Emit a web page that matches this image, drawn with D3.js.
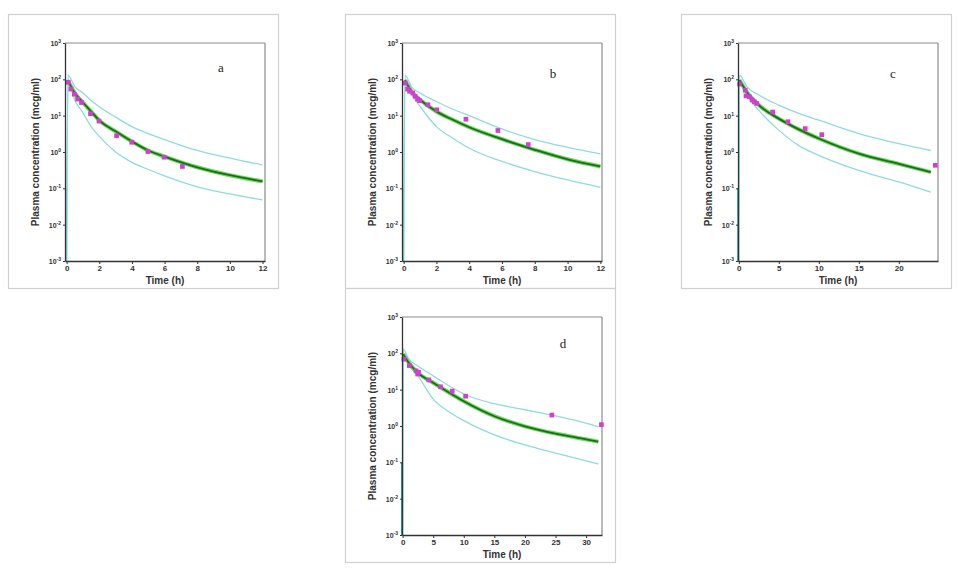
<!DOCTYPE html>
<html lang="en">
<head>
<meta charset="utf-8">
<title>Plasma concentration panels</title>
<script src="https://d3js.org/d3.v7.min.js"></script>
<style>
  body { margin: 0; background: #fff; }
  .axis text { font-family: "Liberation Sans", Arial, sans-serif; font-weight: bold; fill: #333; }
  .axis path, .axis line { stroke: #333; }
  .title { font-family: "Liberation Sans", Arial, sans-serif; font-weight: bold; fill: #333; font-size: 10px; }
</style>
</head>
<body>
<script>
// ---- data ----
// panel a (first value of each simulated curve is the start at time zero)
var timeA   = [0, 0.08, 0.5, 1, 1.5, 2, 3, 4, 5, 6, 8, 10, 12];
var medianA = [null, 92, 42, 23, 13, 7.4, 3.7, 1.95, 1.1, 0.75, 0.38, 0.23, 0.155];
var upperA  = [0.001, 130, 63, 42, 26, 17.5, 9.1, 5, 3.2, 2.2, 1.1, 0.68, 0.44];
var lowerA  = [0.001, 100, 27, 12, 5, 2.7, 1.0, 0.52, 0.33, 0.22, 0.11, 0.07, 0.048];
var obsTimeA = [0.1, 0.26, 0.47, 0.67, 0.91, 1.46, 1.98, 3.06, 3.99, 4.98, 5.97, 7.09];
var obsConcA = [83, 54, 39, 28.6, 23, 11.3, 7.1, 2.8, 1.86, 1.03, 0.72, 0.4];

// panel b
var timeB   = [0, 0.08, 0.5, 1, 2, 3, 4, 6, 8, 10, 12];
var medianB = [null, 95, 45, 27.5, 13, 7.7, 4.8, 2.25, 1.15, 0.63, 0.40];
var upperB  = [0.001, 130, 60, 42, 24.5, 15, 10, 4.3, 2.2, 1.35, 0.89];
var lowerB  = [0.001, 100, 37.6, 18, 5, 2.4, 1.27, 0.55, 0.29, 0.17, 0.107];
var obsTimeB = [0.1, 0.24, 0.36, 0.56, 0.7, 0.85, 0.97, 1.48, 2.02, 3.8, 5.75, 7.6];
var obsConcB = [79, 54, 47, 42, 34, 28.6, 26, 20, 14.5, 8.0, 3.9, 1.6];

// panel c
var timeC   = [0, 0.1, 1, 2.5, 5, 7.5, 10, 15, 20, 24];
var medianC = [null, 95, 45, 19.6, 8.3, 4.2, 2.35, 0.9, 0.47, 0.28];
var upperC  = [0.001, 130, 63, 37, 19.6, 11.5, 7.5, 3.2, 1.7, 1.1];
var lowerC  = [0.001, 100, 37, 14, 4.0, 1.5, 0.81, 0.31, 0.15, 0.078];
var obsTimeC = [0.1, 0.8, 0.9, 1.33, 1.66, 1.95, 2.24, 4.23, 6.14, 8.3, 10.37, 24.56];
var obsConcC = [74, 50, 35, 33, 27, 24, 21.7, 12.6, 6.8, 4.4, 3.0, 0.43];

// panel d
var timeD   = [0, 0.1, 1, 2.5, 5, 7.5, 10, 15, 20, 25, 30, 32];
var medianD = [null, 95, 55, 29, 15.5, 8.5, 4.8, 1.86, 0.98, 0.62, 0.43, 0.37];
var upperD  = [0.001, 130, 70, 45, 24, 13, 7.6, 4.1, 2.8, 1.9, 1.2, 0.95];
var lowerD  = [0.001, 100, 48, 24, 5.5, 2.5, 1.4, 0.57, 0.30, 0.18, 0.11, 0.09];
var obsTimeD = [0.2, 1.1, 2.2, 2.46, 2.6, 4.27, 6.19, 8.1, 10.3, 24.4, 32.5];
var obsConcD = [69, 46, 33, 27, 30, 18.6, 12, 9.1, 6.6, 2.0, 1.09];

// tick values
var yTickExp = [-3, -2, -1, 0, 1, 2, 3];
var xTicksA = [0, 2, 4, 6, 8, 10, 12];
var xTicksC = [0, 5, 10, 15, 20];
var xTicksD = [0, 5, 10, 15, 20, 25, 30];

var panelLabels = ["a", "b", "c", "d"];

// layout of the four cards
var panels = [
  {x: 8,   y: 14,  xmax: 12.15, ticks: xTicksA, time: timeA, med: medianA, up: upperA, lo: lowerA, ot: obsTimeA, oc: obsConcA, lx: 213, ly: 53},
  {x: 345, y: 14,  xmax: 12.1,  ticks: xTicksA, time: timeB, med: medianB, up: upperB, lo: lowerB, ot: obsTimeB, oc: obsConcB, lx: 208, ly: 59},
  {x: 681, y: 14,  xmax: 24.9,  ticks: xTicksC, time: timeC, med: medianC, up: upperC, lo: lowerC, ot: obsTimeC, oc: obsConcC, lx: 212, ly: 59},
  {x: 345, y: 288, xmax: 32.6,  ticks: xTicksD, time: timeD, med: medianD, up: upperD, lo: lowerD, ot: obsTimeD, oc: obsConcD, lx: 218, ly: 55}
];

var cardW = 270, cardH = 274;
var margin = {top: 29, right: 13, bottom: 27, left: 57};
var w = cardW - margin.left - margin.right;
var h = cardH - margin.top - margin.bottom;

var svg = d3.select("body").append("svg")
  .attr("width", 960)
  .attr("height", 576);

panels.forEach(function(p, i) {
  var card = svg.append("g").attr("transform", "translate(" + p.x + "," + p.y + ")");

  card.append("rect")
    .attr("x", 0.5).attr("y", 0.5)
    .attr("width", cardW).attr("height", cardH)
    .attr("fill", "#fff")
    .attr("stroke", "#cfcfcf")
    .attr("stroke-width", 1.2);

  var g = card.append("g").attr("transform", "translate(" + margin.left + "," + margin.top + ")");

  var x = d3.scaleLinear().domain([-0.1, p.xmax]).range([0, w]);
  var y = d3.scaleLog().domain([0.001, 1000]).range([h, 0]);

  // top and right frame lines
  g.append("line").attr("x1", 0).attr("x2", w).attr("y1", 0).attr("y2", 0)
    .attr("stroke", "#8a8a8a").attr("stroke-width", 1.2);
  g.append("line").attr("x1", w).attr("x2", w).attr("y1", 0).attr("y2", h)
    .attr("stroke", "#8a8a8a").attr("stroke-width", 1.2);

  var line = d3.line()
    .defined(function(d) { return d[1] != null; })
    .x(function(d) { return x(d[0]); })
    .y(function(d) { return y(d[1]); })
    .curve(d3.curveMonotoneX);

  function pairs(vals) {
    return p.time.map(function(t, k) { return [t, vals[k]]; });
  }

  // percentile lines
  [p.up, p.lo].forEach(function(vals) {
    g.append("path")
      .datum(pairs(vals))
      .attr("d", line)
      .attr("fill", "none")
      .attr("stroke", "#8edcdc")
      .attr("stroke-width", 1.3);
  });

  // median: light green halo with dark green line on top
  g.append("path")
    .datum(pairs(p.med))
    .attr("d", line)
    .attr("fill", "none")
    .attr("stroke", "#6ad85a")
    .attr("stroke-width", 4);
  g.append("path")
    .datum(pairs(p.med))
    .attr("d", line)
    .attr("fill", "none")
    .attr("stroke", "#1d6b1d")
    .attr("stroke-width", 1.8);

  // the rise at time zero
  g.append("line")
    .attr("x1", x(0) - 1).attr("x2", x(0) - 1)
    .attr("y1", y(0.001)).attr("y2", y(0.1))
    .attr("stroke", "#2f9e9e").attr("stroke-width", 1.2);

  // observed points
  var sym = d3.symbol().type(d3.symbolSquare).size(22);
  g.selectAll(".obs")
    .data(p.ot.map(function(t, k) { return [t, p.oc[k]]; }))
    .enter().append("path")
    .attr("class", "obs")
    .attr("d", sym)
    .attr("transform", function(d) { return "translate(" + x(d[0]) + "," + y(d[1]) + ")"; })
    .attr("fill", "#d23fd0");

  // axes
  var xAxis = d3.axisBottom(x).tickValues(p.ticks).tickSize(3).tickSizeOuter(0);
  var gx = g.append("g").attr("class", "axis")
    .attr("transform", "translate(0," + h + ")")
    .call(xAxis);
  gx.selectAll("text").attr("font-size", "8px").attr("y", 4).attr("dy", "0.71em");
  gx.select(".domain").attr("stroke-width", 1.3);

  var yAxis = d3.axisLeft(y)
    .tickValues(yTickExp.map(function(e) { return Math.pow(10, e); }))
    .tickSize(2).tickSizeOuter(0)
    .tickFormat("");
  var gy = g.append("g").attr("class", "axis").call(yAxis);
  gy.select(".domain").attr("stroke-width", 1.3);

  // y tick labels with superscript exponents
  gy.selectAll(".tick").each(function(d, k) {
    var t = d3.select(this).append("text")
      .attr("x", -4).attr("dy", "0.35em")
      .attr("text-anchor", "end")
      .attr("font-size", "7px");
    t.append("tspan").text("10");
    t.append("tspan").attr("dy", "-0.6em").attr("font-size", "5px")
      .text(yTickExp[k]);
  });

  // titles
  g.append("text").attr("class", "title")
    .attr("x", w / 2).attr("y", h + 22.5)
    .attr("text-anchor", "middle")
    .text("Time (h)");

  g.append("text").attr("class", "title")
    .attr("transform", "translate(-26," + (h / 2) + ") rotate(-90)")
    .attr("text-anchor", "middle")
    .text("Plasma concentration (mcg/ml)");

  card.append("text")
    .attr("x", p.lx).attr("y", p.ly)
    .attr("dy", "0.35em")
    .attr("text-anchor", "middle")
    .attr("font-family", "'Liberation Serif', 'Times New Roman', serif")
    .attr("font-size", "13px")
    .attr("fill", "#222")
    .text(panelLabels[i]);
});
</script>
</body>
</html>
